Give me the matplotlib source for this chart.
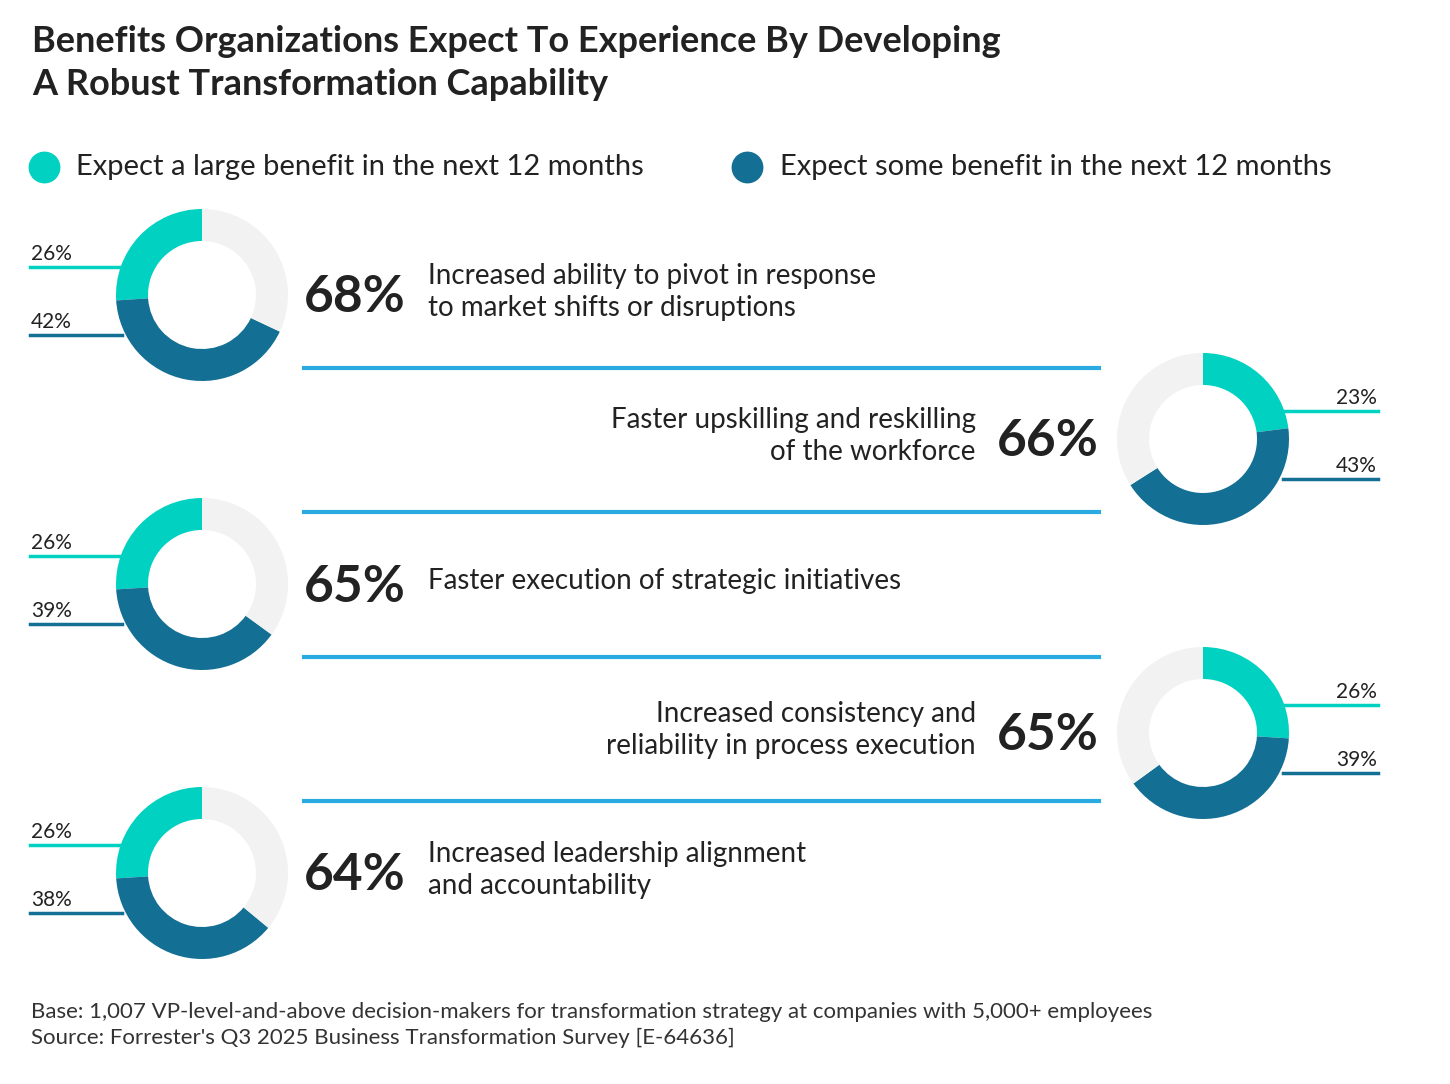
import matplotlib.pyplot as plt

plt.rcParams['font.family'] = ['Lato', 'DejaVu Sans']

# data
large = [26, 23, 26, 26, 26]
some = [42, 43, 39, 39, 38]
totals = ['68%', '66%', '65%', '65%', '64%']
labels = ['Increased ability to pivot in response\nto market shifts or disruptions',
          'Faster upskilling and reskilling\nof the workforce',
          'Faster execution of strategic initiatives',
          'Increased consistency and\nreliability in process execution',
          'Increased leadership alignment\nand accountability']

TEAL = '#00d1c1'
DARK = '#136f93'
GREY = '#f2f2f2'
SEP = '#29abe2'
TXT = '#222222'

W, H = 1450, 1084
fig = plt.figure(figsize=(14.5, 10.84), dpi=100)
ax = fig.add_axes([0, 0, 1, 1])
ax.set_xlim(0, W)
ax.set_ylim(0, H)
ax.axis('off')

def Y(py):
    return H - py

ax.text(32, Y(63), 'Benefits Organizations Expect To Experience By Developing\nA Robust Transformation Capability',
        fontsize=26, fontweight='bold', color=TXT, va='center', linespacing=1.35)
ax.scatter([44], [Y(167)], s=480, color=TEAL)
ax.text(76, Y(167), 'Expect a large benefit in the next 12 months', fontsize=21, color=TXT, va='center')
ax.scatter([747], [Y(167)], s=480, color=DARK)
ax.text(780, Y(167), 'Expect some benefit in the next 12 months', fontsize=21, color=TXT, va='center')

centers_y = [295, 439, 584, 733, 873]
for i in range(5):
    left = i % 2 == 0
    cx = 202 if left else 1203
    cy = Y(centers_y[i])
    vals = [large[i], some[i], 100 - large[i] - some[i]]
    ax.pie(vals, center=(cx, cy), radius=86, startangle=90, counterclock=left,
           colors=[TEAL, DARK, GREY], wedgeprops=dict(width=32, linewidth=0))
    if left:
        lx0, lx1, tx, ha = 30, 122, 31, 'left'
    else:
        lx0, lx1, tx, ha = 1283, 1378, 1377, 'right'
    ax.plot([lx0, lx1], [cy + 28, cy + 28], color=TEAL, lw=2.5)
    ax.text(tx, cy + 31, f'{large[i]}%', fontsize=15, color=TXT, ha=ha, va='bottom')
    ax.plot([lx0, lx1], [cy - 40, cy - 40], color=DARK, lw=2.5)
    ax.text(tx, cy - 37, f'{some[i]}%', fontsize=15, color=TXT, ha=ha, va='bottom')
    if left:
        ax.text(304, cy - 3, totals[i], fontsize=37, fontweight='bold', color=TXT, va='center')
        ax.text(428, cy + 3, labels[i], fontsize=20, color=TXT, va='center', linespacing=1.3)
    else:
        ax.text(1099, cy - 3, totals[i], fontsize=37, fontweight='bold', color=TXT, va='center', ha='right')
        ax.text(976, cy + 3, labels[i], fontsize=20, color=TXT, va='center', ha='right',
                multialignment='right', linespacing=1.3)

for sy in [368, 512, 657, 801]:
    ax.plot([304, 1099], [Y(sy), Y(sy)], color=SEP, lw=3)

ax.text(31, Y(1025), "Base: 1,007 VP-level-and-above decision-makers for transformation strategy at companies with 5,000+ employees\n"
        "Source: Forrester's Q3 2025 Business Transformation Survey [E-64636]",
        fontsize=16, color='#333333', va='center', linespacing=1.35)

ax.set_aspect('auto')
ax.set_xlim(0, W)
ax.set_ylim(0, H)
fig.savefig('out.png', dpi=100)
